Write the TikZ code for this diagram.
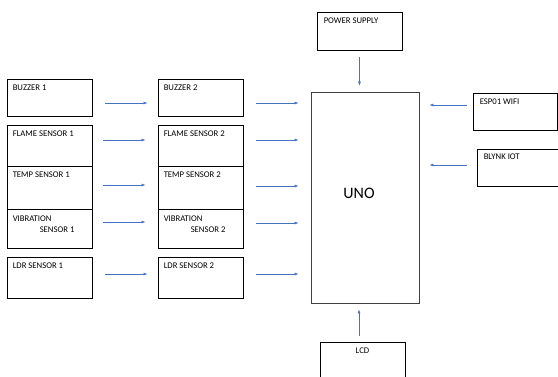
\documentclass[tikz,border=0pt]{standalone}
\usepackage{fontspec}
\setmainfont{Carlito}
\usetikzlibrary{arrows.meta,positioning,calc}
\definecolor{arrowblue}{RGB}{68,114,196}
\definecolor{unogray}{RGB}{64,64,64}

\begin{document}
\begin{tikzpicture}[x=1pt,y=-1pt,>={Latex[length=4pt,width=3pt]},
  blk/.style={draw,line width=0.9pt,minimum width=85pt,inner sep=0pt},
  lbl/.style={anchor=north west,inner sep=0pt,font=\fontsize{8.7}{11}\selectfont,xshift=6pt,yshift=-6pt,align=left},
  arr/.style={->,draw=arrowblue,line width=0.6pt}]
\useasboundingbox (0,0) rectangle (558,376); \clip (0,0) rectangle (558,376);
% sensors, first and second stage
\node[blk,minimum height=37pt,label={[lbl]north west:BUZZER 1}] (b1) at (49.5,97.5) {};
\node[blk,minimum height=37pt,label={[lbl]north west:BUZZER 2}] (b2) at (200.5,97.5) {};
\node[blk,minimum height=41pt,label={[lbl]north west:FLAME SENSOR 1}] (f1) at (49.5,145.5) {};
\node[blk,minimum height=41pt,label={[lbl]north west:FLAME SENSOR 2}] (f2) at (200.5,145.5) {};
\node[blk,minimum height=43pt,label={[lbl]north west:TEMP SENSOR 1}] (t1) at (49.5,187.5) {};
\node[blk,minimum height=43pt,label={[lbl]north west:TEMP SENSOR 2}] (t2) at (200.5,187.5) {};
\node[blk,minimum height=39pt,label={[lbl,yshift=-1pt]north west:VIBRATION\\\hspace*{27pt}SENSOR 1}] (v1) at (49.5,228.5) {};
\node[blk,minimum height=39pt,label={[lbl,yshift=-1pt]north west:VIBRATION\\\hspace*{27pt}SENSOR 2}] (v2) at (200.5,228.5) {};
\node[blk,minimum height=41pt,label={[lbl]north west:LDR SENSOR 1}] (l1) at (49.5,277.5) {};
\node[blk,minimum height=41pt,label={[lbl]north west:LDR SENSOR 2}] (l2) at (200.5,277.5) {};
% controller and the rest
\node[draw=unogray,line width=0.8pt,minimum width=108pt,minimum height=211pt] (uno) at (365,197.5) {};
\node[font=\fontsize{16}{18}\selectfont,inner sep=0pt] (unotxt) at (359,193) {UNO};
\node[blk,minimum height=38pt,label={[lbl,xshift=1pt]north west:POWER SUPPLY}] (ps) at (359.5,31) {};
\node[blk,minimum width=84pt,minimum height=37pt,label={[lbl,xshift=1pt]north west:ESP01 WIFI}] (esp) at (515,111.5) {};
\node[blk,minimum width=84pt,minimum height=37pt,label={[lbl,xshift=1pt,yshift=1pt]north west:BLYNK IOT}] (blynk) at (519,167.5) {};
\node[blk,minimum height=38pt,label={[lbl,anchor=north,xshift=-6pt]north:LCD}] (lcd) at (362.5,361) {};
% arrows
\draw[arr,shorten <=13pt,shorten >=10pt] ([yshift=-5.5]b1.east) -- ([yshift=-5.5]b2.west);
\draw[arr,shorten <=11pt,shorten >=12pt] ([yshift=5.5]f1.east) -- ([yshift=5.5]f2.west);
\draw[arr,shorten <=11pt,shorten >=12pt] ([yshift=2.5]t1.east) -- ([yshift=2.5]t2.west);
\draw[arr,shorten <=11pt,shorten >=12pt] ([yshift=6.5]v1.east) -- ([yshift=6.5]v2.west);
\draw[arr,shorten <=13pt,shorten >=10pt] ([yshift=3.5]l1.east) -- ([yshift=3.5]l2.west);
\draw[arr,shorten <=13pt,shorten >=12pt] ([yshift=-5.5]b2.east) -- ([yshift=-5.5]b2.east -| uno.west);
\draw[arr,shorten <=13pt,shorten >=12pt] ([yshift=5.5]f2.east) -- ([yshift=5.5]f2.east -| uno.west);
\draw[arr,shorten <=13pt,shorten >=12pt] ([yshift=1.5]t2.east) -- ([yshift=1.5]t2.east -| uno.west);
\draw[arr,shorten <=13pt,shorten >=12pt] ([yshift=5.5]v2.east) -- ([yshift=5.5]v2.east -| uno.west);
\draw[arr,shorten <=13pt,shorten >=12pt] ([yshift=3.5]l2.east) -- ([yshift=3.5]l2.east -| uno.west);
\draw[arr,shorten <=7pt,shorten >=6pt] (ps.south) -- (ps.south |- uno.north);
\draw[arr,shorten <=6pt,shorten >=10pt] ([yshift=6.5]esp.west) -- ([yshift=6.5]esp.west -| uno.east);
\draw[arr,shorten <=10pt,shorten >=10pt] ([yshift=2.5]blynk.west) -- ([yshift=2.5]blynk.west -| uno.east);
\draw[arr,shorten <=6pt,shorten >=6pt] ([xshift=-3.5]lcd.north) -- ([xshift=-3.5]lcd.north |- uno.south);
\end{tikzpicture}
\end{document}
